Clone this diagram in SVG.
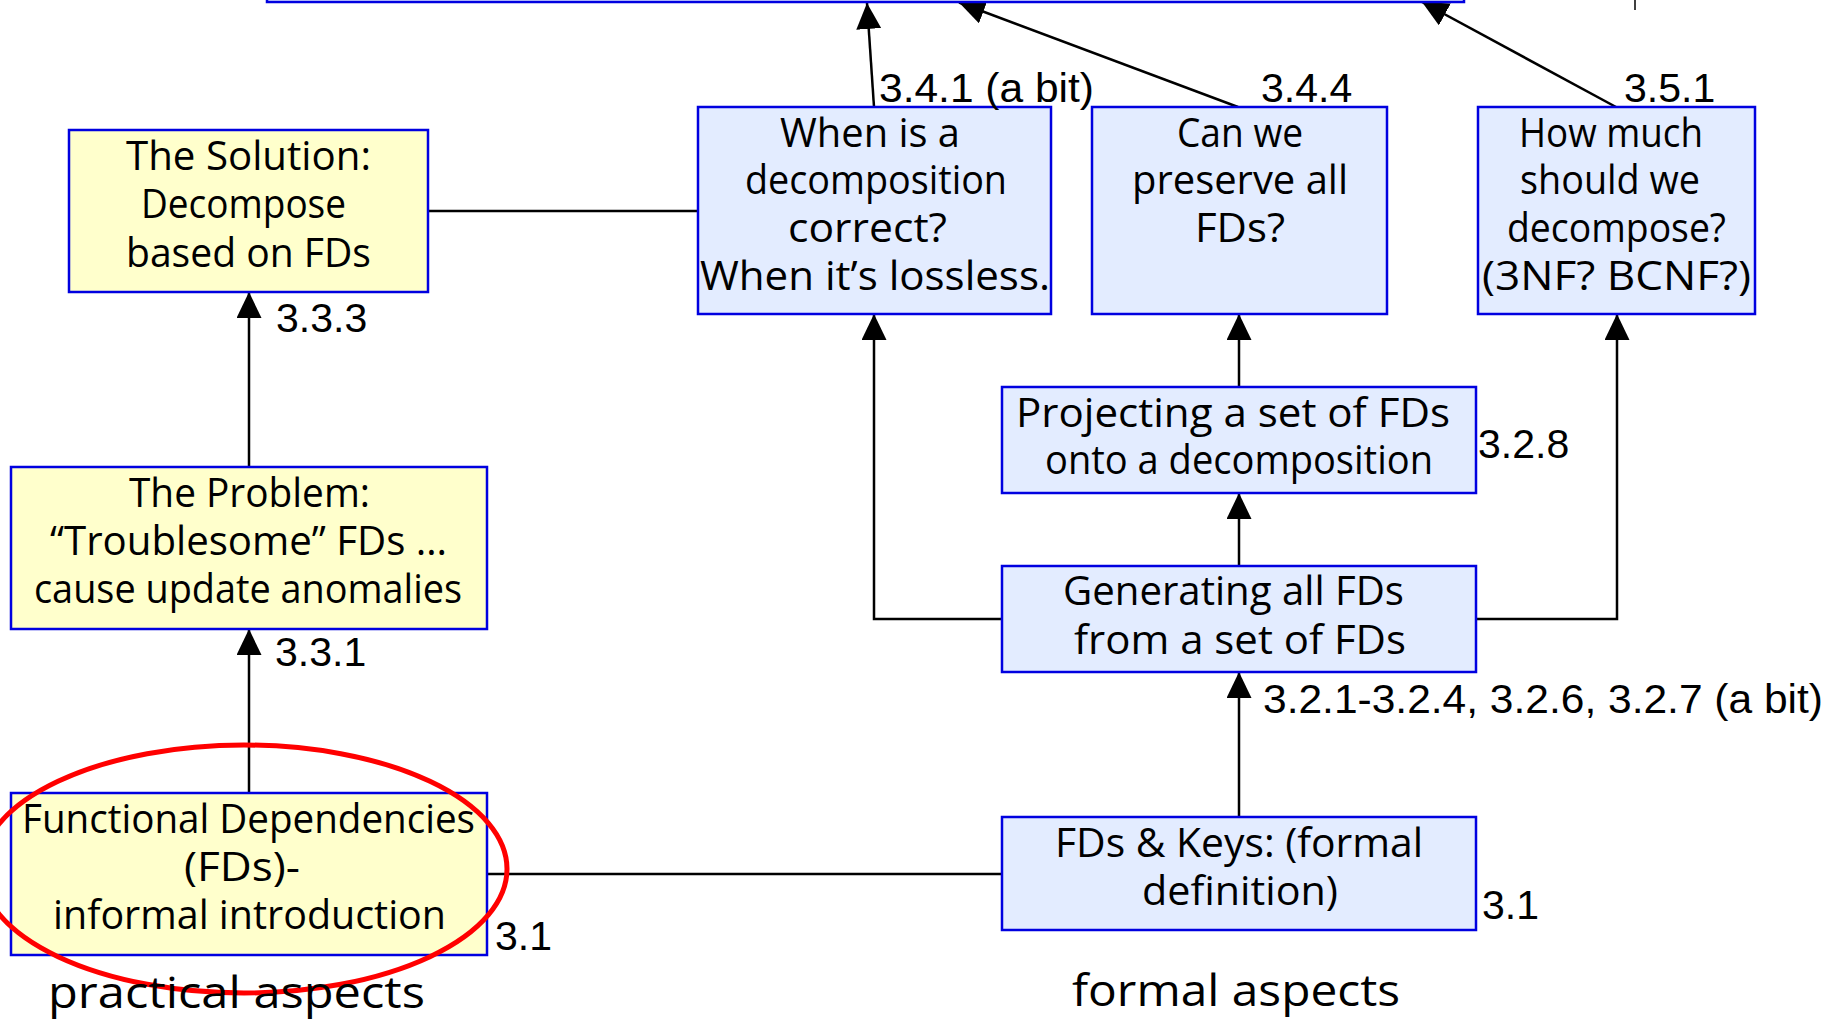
<svg xmlns="http://www.w3.org/2000/svg" width="1843" height="1020" viewBox="0 0 1843 1020">
  <style>
    .box { stroke: #0000e0; stroke-width: 2.5; }
    .yellow { fill: #ffffcc; }
    .blue { fill: #e3ecff; }
    .t { font-family: "Open Sans", "Noto Sans", sans-serif; font-size: 40px; fill: #000; }
    .big { font-family: "Open Sans", "Noto Sans", sans-serif; font-size: 44px; fill: #000; }
    .num { font-family: "Liberation Sans", Arial, sans-serif; font-size: 41px; fill: #000; }
    .link { stroke: #000; stroke-width: 2.5; fill: none; }
    .arrow { marker-end: url(#head); }
  </style>
  <defs>
    <marker id="head" markerUnits="userSpaceOnUse" markerWidth="26" markerHeight="25" refX="26" refY="12.5" orient="auto">
      <path d="M0,0 L26,12.5 L0,25 Z" fill="#000"/>
    </marker>
  </defs>

  <rect width="1843" height="1020" fill="#fff"/>

  <!-- connectors -->
  <g id="connectors">
    <line class="link" x1="428" y1="211" x2="698" y2="211"/>
    <line class="link" x1="487" y1="874" x2="1002" y2="874"/>
    <line class="link arrow" x1="249" y1="467" x2="249" y2="292"/>
    <line class="link arrow" x1="249" y1="793" x2="249" y2="629"/>
    <line class="link arrow" x1="874" y1="107" x2="867" y2="3"/>
    <line class="link arrow" x1="1238" y1="107" x2="959" y2="2.5"/>
    <line class="link arrow" x1="1616" y1="107" x2="1422" y2="2"/>
    <polyline class="link arrow" points="1002,619 874,619 874,314"/>
    <polyline class="link arrow" points="1476,619 1617,619 1617,314"/>
    <line class="link arrow" x1="1239" y1="566" x2="1239" y2="493"/>
    <line class="link arrow" x1="1239" y1="387" x2="1239" y2="314"/>
    <line class="link arrow" x1="1239" y1="817" x2="1239" y2="672"/>
    <line x1="1635" y1="0" x2="1635" y2="10" stroke="#000" stroke-width="1.5"/>
  </g>

  <!-- top node, mostly above the visible area -->
  <g id="node-top">
    <rect class="box blue" x="267" y="-40" width="1197" height="42"/>
  </g>

  <g id="node-solution">
    <rect class="box yellow" x="69" y="130" width="359" height="162"/>
    <text class="t" x="126" y="170" textLength="245" lengthAdjust="spacingAndGlyphs">The Solution:</text>
    <text class="t" x="141" y="218" textLength="205" lengthAdjust="spacingAndGlyphs">Decompose</text>
    <text class="t" x="126" y="267" textLength="245" lengthAdjust="spacingAndGlyphs">based on FDs</text>
  </g>

  <g id="node-when">
    <rect class="box blue" x="698" y="107" width="353" height="207"/>
    <text class="t" x="780" y="147" textLength="180" lengthAdjust="spacingAndGlyphs">When is a</text>
    <text class="t" x="745" y="194" textLength="262" lengthAdjust="spacingAndGlyphs">decomposition</text>
    <text class="t" x="788" y="242" textLength="159" lengthAdjust="spacingAndGlyphs">correct?</text>
    <text class="t" x="700" y="290" textLength="350" lengthAdjust="spacingAndGlyphs">When it’s lossless.</text>
  </g>

  <g id="node-preserve">
    <rect class="box blue" x="1092" y="107" width="295" height="207"/>
    <text class="t" x="1177" y="147" textLength="126" lengthAdjust="spacingAndGlyphs">Can we</text>
    <text class="t" x="1132" y="194" textLength="216" lengthAdjust="spacingAndGlyphs">preserve all</text>
    <text class="t" x="1195" y="242" textLength="90" lengthAdjust="spacingAndGlyphs">FDs?</text>
  </g>

  <g id="node-howmuch">
    <rect class="box blue" x="1478" y="107" width="277" height="207"/>
    <text class="t" x="1519" y="147" textLength="184" lengthAdjust="spacingAndGlyphs">How much</text>
    <text class="t" x="1520" y="194" textLength="180" lengthAdjust="spacingAndGlyphs">should we</text>
    <text class="t" x="1507" y="242" textLength="219" lengthAdjust="spacingAndGlyphs">decompose?</text>
    <text class="t" x="1482" y="290" textLength="269" lengthAdjust="spacingAndGlyphs">(3NF? BCNF?)</text>
  </g>

  <g id="node-problem">
    <rect class="box yellow" x="11" y="467" width="476" height="162"/>
    <text class="t" x="129" y="507" textLength="241" lengthAdjust="spacingAndGlyphs">The Problem:</text>
    <text class="t" x="50" y="555" textLength="397" lengthAdjust="spacingAndGlyphs">“Troublesome” FDs …</text>
    <text class="t" x="34" y="603" textLength="428" lengthAdjust="spacingAndGlyphs">cause update anomalies</text>
  </g>

  <g id="node-fd-informal">
    <rect class="box yellow" x="11" y="793" width="476" height="162"/>
    <text class="t" x="22" y="833" textLength="453" lengthAdjust="spacingAndGlyphs">Functional Dependencies</text>
    <text class="t" x="184" y="881" textLength="116" lengthAdjust="spacingAndGlyphs">(FDs)-</text>
    <text class="t" x="53" y="929" textLength="393" lengthAdjust="spacingAndGlyphs">informal introduction</text>
  </g>

  <g id="node-projecting">
    <rect class="box blue" x="1002" y="387" width="474" height="106"/>
    <text class="t" x="1016" y="427" textLength="434" lengthAdjust="spacingAndGlyphs">Projecting a set of FDs</text>
    <text class="t" x="1045" y="474" textLength="388" lengthAdjust="spacingAndGlyphs">onto a decomposition</text>
  </g>

  <g id="node-generating">
    <rect class="box blue" x="1002" y="566" width="474" height="106"/>
    <text class="t" x="1063" y="605" textLength="341" lengthAdjust="spacingAndGlyphs">Generating all FDs</text>
    <text class="t" x="1074" y="654" textLength="332" lengthAdjust="spacingAndGlyphs">from a set of FDs</text>
  </g>

  <g id="node-fd-formal">
    <rect class="box blue" x="1002" y="817" width="474" height="113"/>
    <text class="t" x="1055" y="857" textLength="368" lengthAdjust="spacingAndGlyphs">FDs &amp; Keys: (formal</text>
    <text class="t" x="1142" y="905" textLength="196" lengthAdjust="spacingAndGlyphs">definition)</text>
  </g>

  <!-- section numbers -->
  <g id="labels">
    <text class="num" x="879" y="102" textLength="215" lengthAdjust="spacingAndGlyphs">3.4.1 (a bit)</text>
    <text class="num" x="1261" y="102">3.4.4</text>
    <text class="num" x="1624" y="102">3.5.1</text>
    <text class="num" x="276" y="332">3.3.3</text>
    <text class="num" x="275" y="666">3.3.1</text>
    <text class="num" x="1478" y="458">3.2.8</text>
    <text class="num" x="1263" y="713" textLength="560" lengthAdjust="spacingAndGlyphs">3.2.1-3.2.4, 3.2.6, 3.2.7 (a bit)</text>
    <text class="num" x="495" y="950">3.1</text>
    <text class="num" x="1482" y="919">3.1</text>
  </g>

  <!-- highlight ring -->
  <ellipse id="highlight" cx="244" cy="869" rx="263" ry="124" fill="none" stroke="#ff0000" stroke-width="5"/>

  <g id="captions">
    <text class="big" x="48" y="1008" textLength="377" lengthAdjust="spacingAndGlyphs">practical aspects</text>
    <text class="big" x="1072" y="1006" textLength="328" lengthAdjust="spacingAndGlyphs">formal aspects</text>
  </g>
</svg>
